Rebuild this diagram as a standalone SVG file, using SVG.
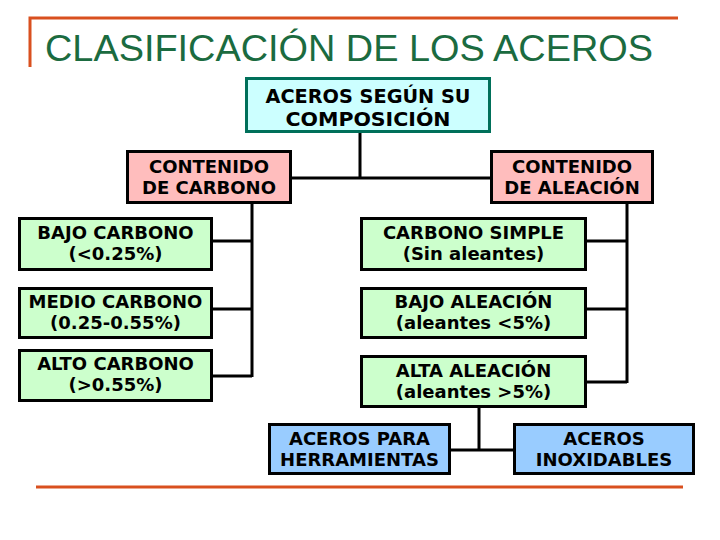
<svg xmlns="http://www.w3.org/2000/svg" width="720" height="540" viewBox="0 0 720 540">
<style>
.frame{stroke:#d9501f;stroke-width:3;fill:none}
.title{font-family:"Liberation Sans",Arial,sans-serif;font-size:37.7px;fill:#1b6b40}
.box{stroke:#000;stroke-width:3}
.top{fill:#ccffff;stroke:#00705a;stroke-width:3}
.pink{fill:#ffbdbd}
.green{fill:#ccffcc}
.blue{fill:#99ccff}
.t{font-family:"DejaVu Sans",Verdana,sans-serif;font-weight:bold;font-size:18px;fill:#000;text-anchor:middle}
.tt{font-family:"DejaVu Sans",Verdana,sans-serif;font-weight:bold;font-size:20px;fill:#000;text-anchor:middle}
.conn{stroke:#000;stroke-width:3;fill:none}
</style>
<rect width="720" height="540" fill="#fff"/>
<g id="frame">
<path class="frame" d="M30,67 V18 H678"/>
<path class="frame" d="M36,487 H683"/>
</g>
<text class="title" x="45" y="61" textLength="608" lengthAdjust="spacingAndGlyphs">CLASIFICACIÓN DE LOS ACEROS</text>
<g id="connectors">
<path class="conn" d="M360,133 V178 M292,178 H490"/>
<path class="conn" d="M252,204 V377 M213,241 H252 M213,309 H252 M213,376 H252"/>
<path class="conn" d="M627,204 V383 M587,241 H627 M587,309 H627 M587,382 H627"/>
<path class="conn" d="M479,408 V450 M451,450 H513"/>
</g>
<g id="composicion">
<rect class="top" x="246.5" y="78.5" width="243" height="53"/>
<text class="tt" x="368" y="103" textLength="205" lengthAdjust="spacingAndGlyphs">ACEROS SEGÚN SU</text>
<text class="tt" x="368" y="126" textLength="165" lengthAdjust="spacingAndGlyphs">COMPOSICIÓN</text>
</g>
<g id="contenido-carbono">
<rect class="box pink" x="127.5" y="151.5" width="163" height="51"/>
<text class="t" x="209" y="173">CONTENIDO</text>
<text class="t" x="209" y="194">DE CARBONO</text>
</g>
<g id="contenido-aleacion">
<rect class="box pink" x="491.5" y="151.5" width="161" height="51"/>
<text class="t" x="572" y="173">CONTENIDO</text>
<text class="t" x="572" y="194">DE ALEACIÓN</text>
</g>
<g id="bajo-carbono">
<rect class="box green" x="19.5" y="218.5" width="192" height="51"/>
<text class="t" x="115.5" y="239">BAJO CARBONO</text>
<text class="t" x="115.5" y="260">(&lt;0.25%)</text>
</g>
<g id="medio-carbono">
<rect class="box green" x="19.5" y="288.5" width="192" height="49"/>
<text class="t" x="115.5" y="308">MEDIO CARBONO</text>
<text class="t" x="115.5" y="329">(0.25-0.55%)</text>
</g>
<g id="alto-carbono">
<rect class="box green" x="19.5" y="350.5" width="192" height="50"/>
<text class="t" x="115.5" y="370">ALTO CARBONO</text>
<text class="t" x="115.5" y="391">(&gt;0.55%)</text>
</g>
<g id="carbono-simple">
<rect class="box green" x="361.5" y="218.5" width="224" height="51"/>
<text class="t" x="473.5" y="239">CARBONO SIMPLE</text>
<text class="t" x="473.5" y="260">(Sin aleantes)</text>
</g>
<g id="bajo-aleacion">
<rect class="box green" x="361.5" y="288.5" width="224" height="49"/>
<text class="t" x="473.5" y="308">BAJO ALEACIÓN</text>
<text class="t" x="473.5" y="329">(aleantes &lt;5%)</text>
</g>
<g id="alta-aleacion">
<rect class="box green" x="361.5" y="356.5" width="224" height="50"/>
<text class="t" x="473.5" y="377">ALTA ALEACIÓN</text>
<text class="t" x="473.5" y="398">(aleantes &gt;5%)</text>
</g>
<g id="herramientas">
<rect class="box blue" x="269.5" y="424.5" width="180" height="49"/>
<text class="t" x="359.5" y="445">ACEROS PARA</text>
<text class="t" x="359.5" y="466">HERRAMIENTAS</text>
</g>
<g id="inoxidables">
<rect class="box blue" x="514.5" y="424.5" width="179" height="49"/>
<text class="t" x="604" y="445">ACEROS</text>
<text class="t" x="604" y="466">INOXIDABLES</text>
</g>
</svg>
